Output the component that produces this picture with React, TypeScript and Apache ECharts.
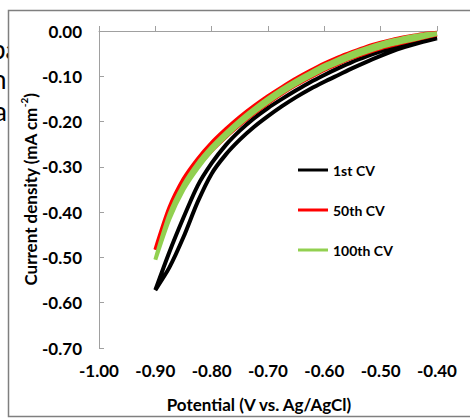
import React, { useEffect, useRef } from "react";
import * as echarts from "echarts";

const potentials = [-0.4, -0.425, -0.45, -0.475, -0.5, -0.525, -0.55, -0.575, -0.6, -0.625, -0.65, -0.675, -0.7, -0.725, -0.75, -0.775, -0.8, -0.825, -0.85, -0.875, -0.9];

// 1st CV: two branches of the loop
const cv1Forward = [-0.016, -0.024, -0.033, -0.043, -0.055, -0.068, -0.082, -0.097, -0.112, -0.128, -0.146, -0.166, -0.188, -0.212, -0.24, -0.273, -0.315, -0.378, -0.455, -0.522, -0.572];
const cv1Reverse = [-0.014, -0.02, -0.027, -0.035, -0.045, -0.056, -0.068, -0.082, -0.097, -0.113, -0.131, -0.15, -0.17, -0.193, -0.22, -0.252, -0.292, -0.342, -0.412, -0.488, -0.572];

// 50th CV
const cv50Forward = [-0.008, -0.015, -0.022, -0.03, -0.038, -0.048, -0.059, -0.072, -0.086, -0.102, -0.119, -0.138, -0.159, -0.182, -0.207, -0.234, -0.264, -0.3, -0.345, -0.405, -0.483];
const cv50Reverse = [-0.004, -0.007, -0.012, -0.018, -0.026, -0.035, -0.046, -0.058, -0.072, -0.088, -0.105, -0.124, -0.144, -0.166, -0.19, -0.217, -0.247, -0.283, -0.327, -0.39, -0.483];

// 100th CV
const cv100Forward = [-0.007, -0.014, -0.021, -0.028, -0.036, -0.046, -0.057, -0.07, -0.084, -0.1, -0.117, -0.136, -0.157, -0.18, -0.205, -0.233, -0.264, -0.303, -0.35, -0.415, -0.505];
const cv100Reverse = [-0.005, -0.008, -0.013, -0.02, -0.028, -0.038, -0.049, -0.062, -0.076, -0.092, -0.109, -0.128, -0.149, -0.172, -0.197, -0.225, -0.256, -0.293, -0.34, -0.405, -0.505];

const seriesNames = ["1st CV", "50th CV", "100th CV"];
const seriesColors = ["#000000", "#ff0000", "#92d050"];
const xTicks = { min: -1.0, max: -0.4, interval: 0.1 };
const yTicks = { min: -0.7, max: 0, interval: 0.1 };

const FONT = "Lato";

function loop(fwd: number[], rev: number[]) {
  const a = potentials.map((v, i) => [v, fwd[i]]);
  const b = potentials.map((v, i) => [v, rev[i]]).reverse();
  return a.concat(b.slice(1));
}

export default function App() {
  const ref = useRef<HTMLDivElement>(null);
  useEffect(() => {
    if (!ref.current) return;
    const chart = echarts.init(ref.current, null, { renderer: "svg" });
    const loops = [
      loop(cv1Forward, cv1Reverse),
      loop(cv50Forward, cv50Reverse),
      loop(cv100Forward, cv100Reverse),
    ];
    chart.setOption({
      animation: false,
      backgroundColor: "#ffffff",
      textStyle: { fontFamily: FONT },
      grid: { left: 99, right: 33, top: 31, bottom: 71, containLabel: false },
      legend: {
        data: seriesNames,
        orient: "vertical",
        left: 298,
        top: 162,
        padding: 0,
        itemWidth: 30,
        itemHeight: 3,
        itemGap: 24,
        icon: "rect",
        textStyle: { fontFamily: FONT, fontWeight: "bold", fontSize: 14, color: "#000", lineHeight: 16 },
      },
      xAxis: {
        type: "value",
        min: xTicks.min,
        max: xTicks.max,
        interval: xTicks.interval,
        name: "Potential (V vs. Ag/AgCl)",
        nameLocation: "middle",
        nameGap: 46,
        nameTextStyle: { fontFamily: FONT, fontWeight: "bold", fontSize: 17, color: "#000", lineHeight: 20, padding: [0, 18, 0, 0] },
        axisLine: { show: true, lineStyle: { color: "#a0a0a0", width: 1 } },
        axisTick: { show: true, inside: true, length: 5, lineStyle: { color: "#a0a0a0" } },
        splitLine: { show: false },
        axisLabel: {
          margin: 14,
          fontFamily: FONT,
          fontWeight: "bold",
          fontSize: 17,
          color: "#000",
          formatter: (v: number) => v.toFixed(2),
        },
      },
      yAxis: {
        type: "value",
        min: yTicks.min,
        max: yTicks.max,
        interval: yTicks.interval,
        name: "Current density (mA cm{sup|-2})",
        nameLocation: "middle",
        nameGap: 58,
        nameMoveOverlap: false,
        nameRotate: 90,
        nameTextStyle: {
          fontFamily: FONT,
          fontWeight: "bold",
          fontSize: 17,
          color: "#000",
          lineHeight: 22,
          rich: {
            sup: { fontFamily: FONT, fontWeight: "bold", fontSize: 10, color: "#000", verticalAlign: "top", lineHeight: 22 },
          },
        },
        axisLine: { show: true, lineStyle: { color: "#a0a0a0", width: 1 } },
        axisTick: { show: true, inside: true, length: 5, lineStyle: { color: "#a0a0a0" } },
        splitLine: { show: false },
        axisLabel: {
          margin: 17,
          fontFamily: FONT,
          fontWeight: "bold",
          fontSize: 17,
          color: "#000",
          formatter: (v: number) => v.toFixed(2),
        },
      },
      graphic: {
        elements: [
          { type: "text", left: -9, top: 36, z: -200, style: { text: "ba", fontSize: 26, fontFamily: FONT, fill: "#000" } },
          { type: "text", left: -8, top: 66, z: -200, style: { text: "n", fontSize: 26, fontFamily: FONT, fill: "#000" } },
          { type: "text", left: -6, top: 98, z: -200, style: { text: "a", fontSize: 26, fontFamily: FONT, fill: "#000" } },
          {
            type: "rect",
            z: -100,
            shape: { x: 8.5, y: 10.5, width: 470, height: 406 },
            style: { fill: "#ffffff", stroke: "#7f7f7f", lineWidth: 1.5 },
          },
        ],
      },
      series: seriesNames.map((name, i) => ({
        name,
        type: "line",
        data: loops[i],
        showSymbol: false,
        symbol: "none",
        smooth: 0.25,
        color: seriesColors[i],
        lineStyle: { color: seriesColors[i], width: 4 },
        z: 2 + i,
      })),
    });
    return () => chart.dispose();
  }, []);
  return <div ref={ref} style={{ position: "fixed", left: 0, top: 0, width: 470, height: 419 }} />;
}
